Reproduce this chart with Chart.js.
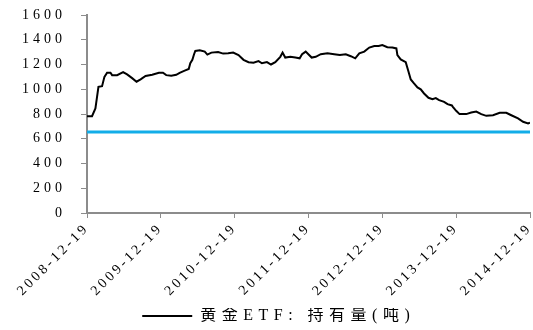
<!DOCTYPE html>
<html>
<head>
<meta charset="utf-8">
<script src="https://cdn.jsdelivr.net/npm/chart.js@4/dist/chart.umd.min.js"></script>
<style>
  html, body { margin: 0; padding: 0; background: #fff; }
  #wrap { width: 533px; height: 330px; }
</style>
</head>
<body>
<div id="wrap"><canvas id="etfChart"></canvas></div>
<script>
// Годы от 2008-12-19 (по оси X) и объём золота в ETF, тонн
const yearsFromStart = [
    0, 0.068, 0.114, 0.136, 0.155, 0.204, 0.236, 0.272, 0.318, 0.340,
    0.408, 0.489, 0.543, 0.611, 0.671, 0.726, 0.793, 0.883, 0.974, 1.029,
    1.073, 1.141, 1.209, 1.255, 1.323, 1.378, 1.399, 1.427, 1.450, 1.467,
    1.527, 1.595, 1.630, 1.685, 1.776, 1.844, 1.912, 1.980, 2.052, 2.120,
    2.188, 2.255, 2.323, 2.370, 2.437, 2.492, 2.550, 2.618, 2.649, 2.685,
    2.754, 2.822, 2.880, 2.913, 2.962, 2.998, 3.043, 3.098, 3.166, 3.257,
    3.348, 3.424, 3.505, 3.573, 3.633, 3.688, 3.755, 3.823, 3.891, 3.950,
    4.000, 4.068, 4.136, 4.190, 4.204, 4.249, 4.317, 4.348, 4.385, 4.429,
    4.476, 4.520, 4.565, 4.625, 4.679, 4.724, 4.769, 4.837, 4.883, 4.942,
    4.955, 5.000, 5.046, 5.136, 5.204, 5.272, 5.340, 5.408, 5.499, 5.590,
    5.679, 5.747, 5.838, 5.906, 5.974, 6.000
];
const holdings = [
    782, 782, 845, 939, 1020, 1025, 1100, 1133, 1133, 1114,
    1114, 1139, 1120, 1090, 1061, 1080, 1107, 1117, 1133, 1133,
    1114, 1110, 1117, 1133, 1150, 1164, 1210, 1238, 1283, 1310,
    1315, 1304, 1280, 1296, 1301, 1288, 1290, 1296, 1276, 1238,
    1219, 1215, 1228, 1210, 1219, 1200, 1219, 1262, 1296, 1256,
    1262, 1256, 1250, 1283, 1304, 1283, 1256, 1262, 1283, 1290,
    1283, 1276, 1283, 1267, 1250, 1290, 1304, 1337, 1349, 1349,
    1357, 1340, 1337, 1330, 1276, 1241, 1219, 1155, 1079, 1047,
    1015, 999, 966, 931, 920, 928, 912, 898, 880, 869,
    858, 826, 799, 799, 812, 820, 799, 785, 790, 810,
    810, 790, 764, 737, 724, 730
];
// Горизонтальный уровень (голубая линия)
const refLevel = [655, 655];
const refYears = [0, 6];
// Подписи оси X
const tickLabels = [
    '2008-12-19', '2009-12-19', '2010-12-19', '2011-12-19',
    '2012-12-19', '2013-12-19', '2014-12-19'
];
const seriesName = '黄金ETF: 持有量(吨)';

const serif = '"Liberation Serif", "Times New Roman", "Noto Sans CJK SC", serif';
const axisColor = '#8c8c8c';

// Оборачиваем функцию отрисовки, чтобы задать разрядку букв
function withSpacing(obj, method, spacing, ctx, shiftX = 0, shiftY = 0) {
    if (!obj || obj['_sp_' + method]) return;
    const orig = obj[method].bind(obj);
    obj[method] = function(...args) {
        ctx.save();
        ctx.letterSpacing = spacing;
        ctx.translate(shiftX, shiftY);
        orig(...args);
        ctx.restore();
    };
    obj['_sp_' + method] = true;
}

const spacingPlugin = {
    id: 'spacing',
    beforeDraw(chart) {
        withSpacing(chart.scales.y, 'drawLabels', '4px', chart.ctx);
        withSpacing(chart.scales.x, 'drawLabels', '3px', chart.ctx);
        withSpacing(chart.legend, 'draw', '5.5px', chart.ctx, -22, 4);
    }
};

function noPadding(scale) {
    scale.paddingLeft = 0;
    scale.paddingRight = 0;
    scale.paddingTop = 0;
    scale.paddingBottom = 0;
}

const ctx = document.getElementById('etfChart').getContext('2d');
new Chart(ctx, {
    type: 'line',
    data: {
        datasets: [{
            label: seriesName,
            data: yearsFromStart.map((t, i) => ({ x: t, y: holdings[i] })),
            borderColor: '#000',
            backgroundColor: '#000',
            borderWidth: 2,
            pointRadius: 0,
            tension: 0
        }, {
            label: 'level',
            data: refYears.map((t, i) => ({ x: t, y: refLevel[i] })),
            borderColor: '#12ADE8',
            borderWidth: 3,
            pointRadius: 0
        }]
    },
    options: {
        responsive: true,
        maintainAspectRatio: false,
        animation: false,
        layout: { padding: { left: 0, right: 3, top: 15, bottom: 0 } },
        scales: {
            x: {
                type: 'linear',
                min: 0,
                max: 6,
                grid: { drawOnChartArea: false, drawTicks: true, tickLength: 5, color: axisColor },
                border: { color: axisColor, width: 2 },
                ticks: {
                    stepSize: 1,
                    minRotation: 45,
                    maxRotation: 45,
                    padding: 2,
                    color: '#000',
                    font: { family: serif, size: 14 },
                    callback: function(value) {
                        return tickLabels[value] || '';
                    }
                },
                afterFit: function(scale) {
                    scale.height = 91;
                    noPadding(scale);
                }
            },
            y: {
                min: 0,
                max: 1600,
                grid: { drawOnChartArea: false, drawTicks: true, tickLength: 6, color: axisColor },
                border: { color: axisColor, width: 2 },
                ticks: {
                    stepSize: 200,
                    padding: 15,
                    color: '#000',
                    font: { family: serif, size: 14 },
                    callback: function(value) {
                        return String(value);
                    }
                },
                afterFit: function(scale) {
                    scale.width = 87;
                    noPadding(scale);
                }
            }
        },
        plugins: {
            legend: {
                position: 'bottom',
                labels: {
                    filter: item => item.datasetIndex === 0,
                    usePointStyle: true,
                    pointStyle: 'line',
                    pointStyleWidth: 50,
                    color: '#000',
                    padding: 0,
                    font: { family: serif, size: 16 }
                }
            },
            tooltip: { enabled: false }
        }
    },
    plugins: [spacingPlugin]
});
</script>
</body>
</html>
